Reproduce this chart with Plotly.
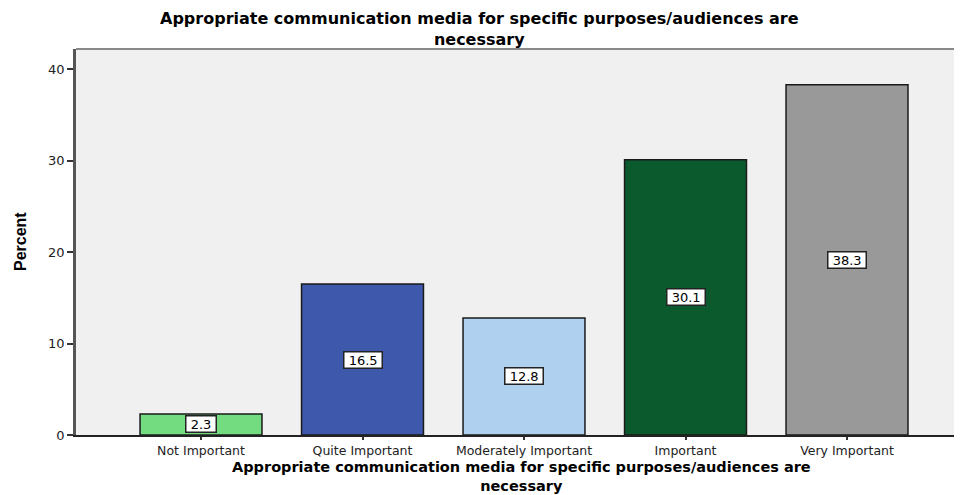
import plotly.graph_objects as go

categories = ["Not Important", "Quite Important", "Moderately Important", "Important", "Very Important"]
percent = [2.3, 16.5, 12.8, 30.1, 38.3]
bar_colors = ["#73dc80", "#3e58ac", "#afd0ee", "#0b5a2e", "#999999"]
y_ticks = [0, 10, 20, 30, 40]
title_text = "Appropriate communication media for specific purposes/audiences are<br>necessary"
y_title = "Percent"

fig = go.Figure()
fig.add_trace(go.Bar(
    x=list(range(len(categories))), y=percent,
    marker=dict(color=bar_colors, line=dict(color="#1a1a1a", width=1.5)),
    width=0.755, hoverinfo="skip",
))

for i, v in enumerate(percent):
    fig.add_annotation(
        x=i, y=v / 2, text=f"\u00a0{v}\u00a0", showarrow=False,
        font=dict(family="DejaVu Sans", size=13, color="black"),
        bgcolor="white", bordercolor="#222222", borderwidth=1.5, borderpad=0,
    )

# chart title
fig.add_annotation(xref="paper", yref="paper", x=0.455, y=1, yanchor="middle",
                   yshift=20, text=title_text, showarrow=False,
                   font=dict(family="DejaVu Sans", size=16, color="black", weight="bold"))
# x-axis title
fig.add_annotation(xref="paper", yref="paper", x=0.503, y=0, yanchor="middle",
                   yshift=-41.5, text=title_text, showarrow=False,
                   font=dict(family="DejaVu Sans", size=14.5, color="black", weight="bold"))
# y-axis title
fig.add_annotation(xref="paper", yref="paper", x=0, y=0.5, xanchor="center",
                   xshift=-56, textangle=-90, text=y_title, showarrow=False,
                   font=dict(family="Liberation Sans Narrow, Liberation Sans", size=16,
                             color="black", weight="bold"))

fig.update_layout(
    width=954, height=487,
    margin=dict(l=68, r=0, t=41, b=60, autoexpand=False),
    paper_bgcolor="white", plot_bgcolor="#f0f0f0",
    showlegend=False,
    xaxis=dict(
        range=[-0.774, 4.712], tickmode="array",
        tickvals=list(range(len(categories))), ticktext=categories,
        ticks="outside", ticklen=3, tickwidth=1.5, tickcolor="#333333",
        showline=True, linecolor="#222222", linewidth=1.5,
        showgrid=False, zeroline=False, automargin=False,
        tickfont=dict(family="DejaVu Sans", size=12.5, color="#222222"),
    ),
    yaxis=dict(
        range=[0, 42.2], tickmode="array", tickvals=y_ticks,
        ticks="outside", ticklen=6, tickwidth=1.5, tickcolor="#333333",
        showline=True, linecolor="#555555", linewidth=2.5,
        showgrid=False, zeroline=False, automargin=False,
        tickfont=dict(family="DejaVu Sans", size=13, color="#222222"),
    ),
)
fig.add_shape(type="line", xref="paper", yref="paper", x0=0, x1=1, y0=1, y1=1,
              line=dict(color="#888888", width=2))

fig.write_html("out.html")
